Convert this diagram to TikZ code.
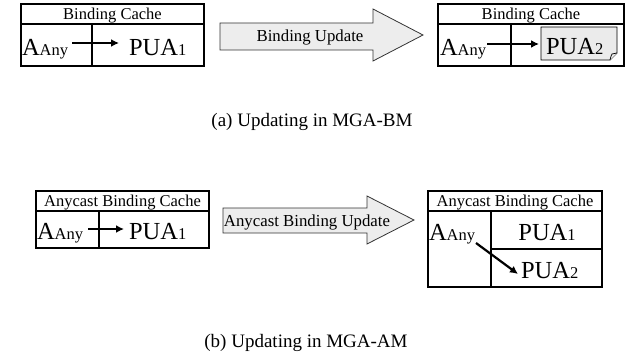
\documentclass[tikz,border=0pt]{standalone}
\usepackage{fontspec}
\setmainfont{Liberation Serif}
\usetikzlibrary{arrows.meta}
\newcommand\myBig{\fontsize{24.5}{24.5}\selectfont}
\newcommand\mySub{\fontsize{16.5}{16.5}\selectfont}
\newcommand\myHdr{\fontsize{16.5}{16.5}\selectfont}
\newcommand\myUpd{\fontsize{16.8}{16.8}\selectfont}
\newcommand\myCap{\fontsize{19}{19}\selectfont}
\begin{document}
\begin{tikzpicture}[x=1pt,y=-1pt,
  tbl/.style={draw=black,line width=1.3pt},
  txt/.style={inner sep=0pt,outer sep=0pt},
  bigarrow/.style={draw=black!80,line width=0.8pt,fill=black!7},
  ptr/.style={line width=2.2pt,-{Latex[length=8pt,width=8pt]}}]
\useasboundingbox (0,0) rectangle (636,361);
% ---------- (a) ----------
% left table
\draw[tbl] (21,4) rectangle (204,66);
\draw[tbl] (21,24) -- (204,24);
\draw[tbl] (92,24) -- (92,66);
\node[txt,anchor=base] (h1) at (112.5,20) {\myHdr Binding Cache};
\node[txt,anchor=base west] (a1) at (22,56) {\myBig A\mySub Any};
\node[txt,anchor=base west] (p1) at (129,56) {\myBig PUA\mySub 1};
\coordinate (s1) at (72,43);
\coordinate (e1) at (119,43);
\draw[ptr] (s1) -- (e1);
% big arrow
\draw[bigarrow] (220,23) -- (373,23) -- (373,9) -- (423,35) -- (373,61) -- (373,50) -- (220,50) -- cycle;
\node[txt] (u1) at (310,37) {\myUpd Binding Update};
% right table
\draw[tbl] (438,4) rectangle (624,66);
\draw[tbl] (438,24) -- (624,24);
\draw[tbl] (511,24) -- (511,66);
\node[txt,anchor=base] (h2) at (531,20) {\myHdr Binding Cache};
\draw[draw=black,line width=0.9pt,fill=black!8] (541,27) -- (617,27) -- (617,53) -- (610,60) -- (541,60) -- cycle;
\draw[draw=black,line width=0.7pt,fill=black!8] (610,60) .. controls (611,57) and (611,55) .. (612,54) .. controls (614,54) and (615,53.5) .. (617,53);
\node[txt,anchor=base west] (a2) at (440,56) {\myBig A\mySub Any};
\node[txt,anchor=base west] (p2) at (546,55) {\myBig PUA\mySub 2};
\coordinate (s2) at (487,44);
\coordinate (e2) at (539,44);
\draw[ptr] (s2) -- (e2);
\node[txt,anchor=base] (capa) at (312,126) {\myCap (a) Updating in MGA-BM};
% ---------- (b) ----------
% left table
\draw[tbl] (36,191) rectangle (209,248);
\draw[tbl] (36,211) -- (209,211);
\draw[tbl] (99,211) -- (99,248);
\node[txt,anchor=base] (h3) at (122.5,206.5) {\myHdr Anycast Binding Cache};
\node[txt,anchor=base west] (a3) at (37,239) {\myBig A\mySub Any};
\node[txt,anchor=base west] (p3) at (129,239) {\myBig PUA\mySub 1};
\coordinate (s3) at (88,229);
\coordinate (e3) at (124,229);
\draw[ptr] (s3) -- (e3);
% big arrow
\draw[bigarrow] (223,208) -- (367,208) -- (367,196) -- (414,220) -- (367,244) -- (367,233) -- (223,233) -- cycle;
\node[txt] (u2) at (307,222) {\myUpd Anycast Binding Update};
% right table
\draw[tbl] (428,191) rectangle (602,287);
\draw[tbl] (428,211) -- (602,211);
\draw[tbl] (491,211) -- (491,287);
\draw[tbl] (491,249) -- (602,249);
\node[txt,anchor=base] (h4) at (515,206.5) {\myHdr Anycast Binding Cache};
\node[txt,anchor=base west] (a4) at (429,240) {\myBig A\mySub Any};
\node[txt,anchor=base] (p4) at (547,240) {\myBig PUA\mySub 1};
\node[txt,anchor=base west] (p5) at (521,278) {\myBig PUA\mySub 2};
\coordinate (s4) at (476,243);
\coordinate (e4) at (518,274);
\draw[ptr] (s4) -- (e4);
\node[txt,anchor=base] (capb) at (306,347) {\myCap (b) Updating in MGA-AM};
\end{tikzpicture}
\end{document}
